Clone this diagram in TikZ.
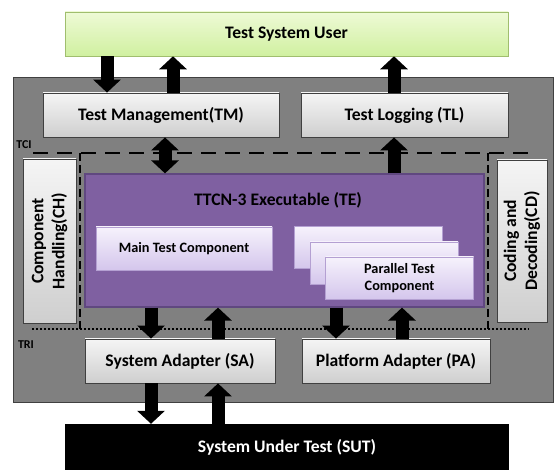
\documentclass[tikz,border=0pt]{standalone}
\usepackage{fontspec}
\setmainfont{Carlito}
\usetikzlibrary{arrows.meta}

\definecolor{sysgray}{RGB}{128,128,128}
\definecolor{sysedge}{RGB}{64,64,64}
\definecolor{tepurple}{RGB}{127,96,161}
\definecolor{teedge}{RGB}{96,72,128}
\definecolor{comptop}{RGB}{246,242,252}
\definecolor{compbot}{RGB}{212,198,236}
\definecolor{compedge}{RGB}{180,160,210}
\definecolor{usertop}{RGB}{238,250,214}
\definecolor{userbot}{RGB}{208,240,160}
\definecolor{useredge}{RGB}{160,190,110}

\def\bigfont{\fontsize{17.6}{21}\selectfont\bfseries}
\def\smallfont{\fontsize{14.3}{17}\selectfont\bfseries}
\def\tagfont{\fontsize{12}{14}\selectfont\bfseries}

\begin{document}
\begin{tikzpicture}[
        x=1pt,y=-1pt,
        greybox/.style={draw=sysedge,line width=0.8pt,top color=gray!8,bottom color=gray!38,
            font=\bigfont,inner sep=0pt,align=center},
        compbox/.style={draw=compedge,line width=0.6pt,top color=comptop,bottom color=compbot,
            font=\smallfont,inner sep=0pt,align=center,
            minimum width=148,minimum height=42},
        fat/.style={line width=13pt,-{Triangle[width=27pt,length=13pt]}},
        fatboth/.style={line width=13pt,{Triangle[width=27pt,length=13pt]}-{Triangle[width=27pt,length=13pt]}},
    ]
    \useasboundingbox (0,0) rectangle (558,473);

    % test system and its interfaces
    \node[draw=sysedge,line width=1pt,fill=sysgray,minimum width=540,minimum height=325] (sys) at (283,240.5) {};
    \node[draw=useredge,line width=0.6pt,top color=usertop,bottom color=userbot,
        font=\bigfont,minimum width=443,minimum height=44] (tsu) at (286.5,34) {Test System User};

    \node[greybox,minimum width=236,minimum height=44] (tm) at (161,115) {Test Management(TM)};
    \node[greybox,minimum width=207,minimum height=44] (tl) at (404.5,115) {Test Logging (TL)};

    \draw[line width=2.6pt,dash pattern=on 15pt off 9pt] (33,153) -- (530,153);
    \draw[line width=2pt,dash pattern=on 2pt off 2pt] (32,329) -- (529,329);
    \draw[line width=1.1pt,dash pattern=on 8pt off 4pt] (80,153) -- (80,329);
    \draw[line width=1.1pt,dash pattern=on 8pt off 4pt] (488,153) -- (488,329);
    \node[font=\tagfont,inner sep=0pt] (tci) at (24,145) {TCI};
    \node[font=\tagfont,inner sep=0pt] (tri) at (26,345) {TRI};

    \node[greybox,rotate=90,minimum width=164,minimum height=53] (ch) at (49.5,241) {Component\\Handling(CH)};
    \node[greybox,rotate=90,minimum width=162,minimum height=50] (cd) at (522,241) {Coding and\\Decoding(CD)};

    % executable with its components
    \node[draw=teedge,line width=1.2pt,fill=tepurple,minimum width=399,minimum height=133] (te) at (284.5,240.5) {};
    \node[font=\bigfont] (tetitle) at (278,200) {TTCN-3 Executable (TE)};
    \node[compbox,minimum width=176,minimum height=43] (mtc) at (184,248.5) {Main Test Component};
    \node[compbox] (ptca) at (368,247.5) {};
    \node[compbox] (ptcb) at (384,263) {};
    \node[compbox] (ptcc) at (399.5,278) {Parallel Test\\Component};

    \node[greybox,minimum width=190,minimum height=44] (sa) at (180,361) {System Adapter (SA)};
    \node[greybox,minimum width=188,minimum height=44] (pa) at (396,361) {Platform Adapter (PA)};

    \node[fill=black,text=white,font=\bigfont,minimum width=444,minimum height=46] (sut) at (287,447) {System Under Test (SUT)};

    % arrows
    \draw[fat] ([xshift=-54pt]tm.north |- tsu.south) -- ([xshift=-54pt]tm.north);
    \draw[fat] ([xshift=12pt]tm.north) -- ([xshift=12pt]tm.north |- tsu.south);
    \draw[fat] ([xshift=-10.5pt]tl.north) -- ([xshift=-10.5pt]tl.north |- tsu.south);
    \draw[fatboth] ([xshift=4pt]tm.south) -- ([xshift=4pt]tm.south |- te.north);
    \draw[fat] ([xshift=-10.5pt]tl.south |- te.north) -- ([xshift=-10.5pt]tl.south);

    \draw[fat] ([xshift=-29pt]sa.north |- te.south) -- ([xshift=-29pt]sa.north);
    \draw[fat] ([xshift=38pt]sa.north) -- ([xshift=38pt]sa.north |- te.south);
    \draw[fat] ([xshift=-60pt]pa.north |- te.south) -- ([xshift=-60pt]pa.north);
    \draw[fat] ([xshift=6pt]pa.north) -- ([xshift=6pt]pa.north |- te.south);

    \draw[fat] ([xshift=-29pt]sa.south) -- ([xshift=-29pt]sa.south |- sut.north);
    \draw[fat] ([xshift=38pt]sa.south |- sut.north) -- ([xshift=38pt]sa.south);
\end{tikzpicture}
\end{document}
